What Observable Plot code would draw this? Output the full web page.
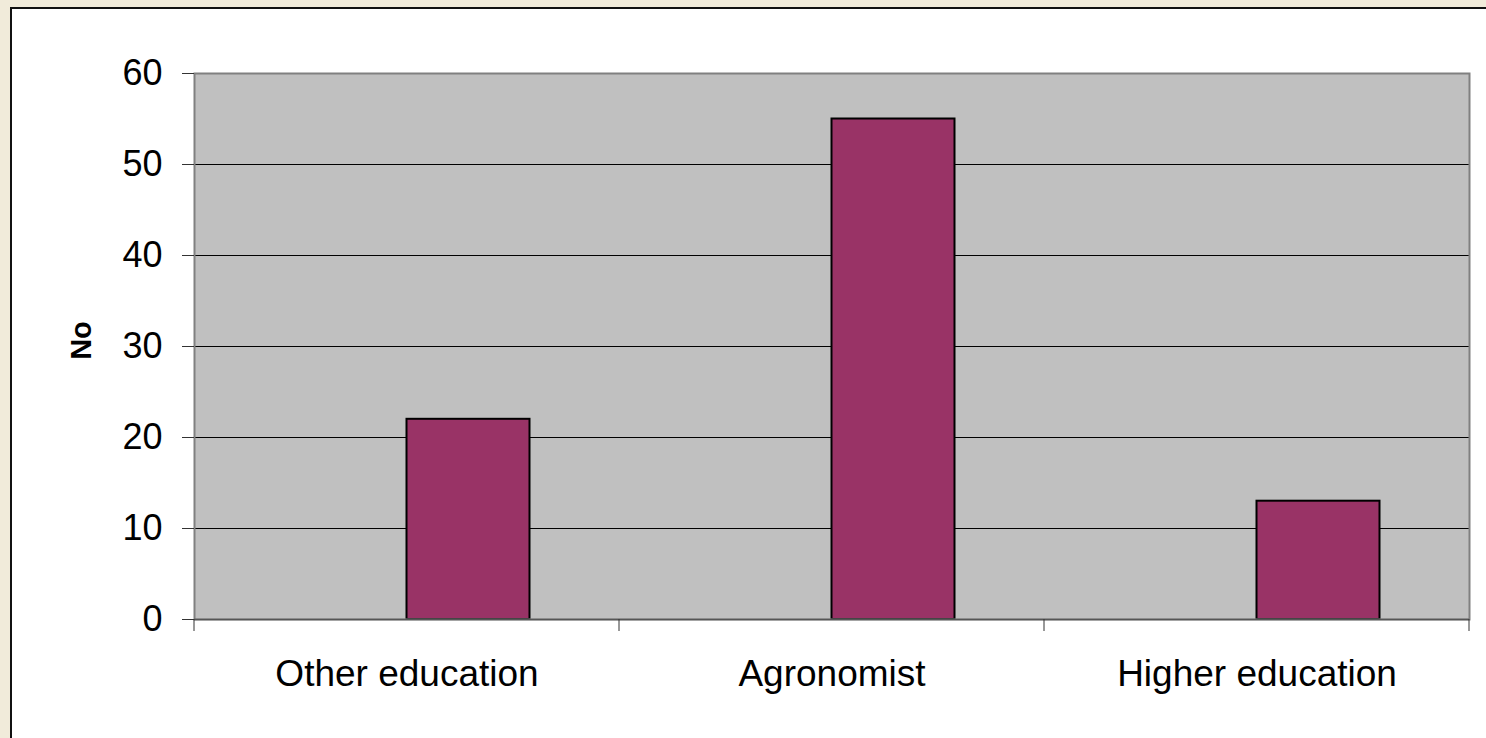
<!DOCTYPE html>
<html>
<head>
<meta charset="utf-8">
<script src="https://cdn.jsdelivr.net/npm/d3@7"></script>
<script src="https://cdn.jsdelivr.net/npm/@observablehq/plot@0.6"></script>
<style>
  html, body { margin: 0; padding: 0; background: #f1ebda; width: 1486px; height: 738px; overflow: hidden; }
  #box { position: absolute; left: 10px; top: 7px; width: 1500px; height: 760px; background: #fff; border: 2px solid #111; box-sizing: border-box; }
  #chart { position: absolute; left: 0; top: 0; }
</style>
</head>
<body>
<div id="box"></div>
<div id="chart"></div>
<script>
const categories = ["Other education", "Agronomist", "Higher education"];
const values = [22, 55, 13];
const yTicks = [0, 10, 20, 30, 40, 50, 60];
const yLabel = "No";

const data = categories.map((c, i) => ({category: c, value: values[i]}));

const chart = Plot.plot({
  width: 1486,
  height: 738,
  marginLeft: 194,
  marginRight: 17,
  marginTop: 73,
  marginBottom: 119,
  style: {background: "transparent", fontFamily: "'Liberation Sans', Arial, sans-serif", color: "#000"},
  x: {domain: categories, padding: 0, label: null},
  y: {domain: [0, 60], label: null},
  marks: [
    Plot.frame({fill: "#c0c0c0"}),
    Plot.ruleY(yTicks.filter(v => v > 0 && v < 60), {stroke: "#000", strokeWidth: 1}),
    Plot.barY(data, {x: "category", y: "value", fill: "#993366", stroke: "#000", strokeWidth: 2, insetLeft: 212.5, insetRight: 89.5}),
    Plot.frame({stroke: "#808080", strokeWidth: 2}),
    Plot.ruleY([0], {stroke: "#555", strokeWidth: 1.5}),
    Plot.axisY({ticks: yTicks, tickSize: 12, tickPadding: 20, fontSize: 36, label: null, stroke: "#333"}),
    Plot.axisX({tickSize: 0, tickPadding: 40, fontSize: 37, label: null}),
    Plot.text([yLabel], {frameAnchor: "left", textAnchor: "middle", lineAnchor: "middle", dx: -113, dy: -6, rotate: -90, fontWeight: "bold", fontSize: 29, fill: "#000"})
  ]
});

document.getElementById("chart").appendChild(chart);

// boundary tick marks on the category axis, positioned from Plot's own x scale
const xs = chart.scale("x");
const ys = chart.scale("y");
const bounds = categories.map(c => xs.apply(c)).concat([xs.apply(categories[categories.length - 1]) + xs.bandwidth]);
const y0 = ys.apply(0);
d3.select(chart).append("g")
  .selectAll("line").data(bounds).join("line")
  .attr("x1", d => d).attr("x2", d => d)
  .attr("y1", y0).attr("y2", y0 + 12)
  .attr("stroke", "#333").attr("stroke-width", 1);
</script>
</body>
</html>
